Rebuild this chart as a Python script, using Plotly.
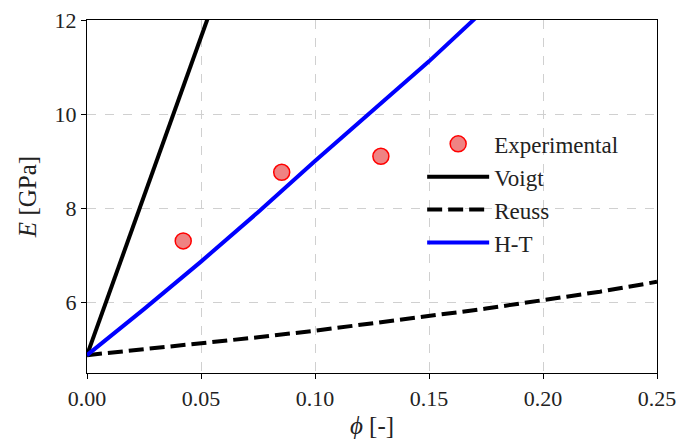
import plotly.graph_objects as go

# Experimental measurements
phi_exp = [0.0422, 0.0854, 0.1289]
E_exp = [7.30, 8.76, 9.10]

# Voigt bound (linear rule of mixtures)
phi_voigt = [0.0, 0.25]
E_voigt = [4.87, 38.7]

# Reuss bound
phi_reuss = [0.0, 0.025, 0.05, 0.075, 0.10, 0.125, 0.15, 0.175, 0.20, 0.225, 0.25]
E_reuss = [4.87, 4.99, 5.12, 5.25, 5.39, 5.54, 5.69, 5.86, 6.04, 6.22, 6.43]

# Halpin-Tsai estimate
phi_ht = [0.0, 0.025, 0.05, 0.075, 0.10, 0.125, 0.15, 0.175, 0.20]
E_ht = [4.87, 5.85, 6.86, 7.91, 9.00, 10.06, 11.12, 12.25, 13.45]

x_ticks = [0.0, 0.05, 0.10, 0.15, 0.20, 0.25]
x_tick_text = ["0.00", "0.05", "0.10", "0.15", "0.20", "0.25"]
y_ticks = [6, 8, 10, 12]

FONT = "Liberation Serif, serif"

fig = go.Figure()
fig.add_trace(go.Scatter(
    x=phi_exp, y=E_exp, mode="markers", name="Experimental", legendgroup="a",
    marker=dict(size=16, color="rgba(235,100,100,0.8)",
                line=dict(color="red", width=1.5)),
))
fig.add_trace(go.Scatter(
    x=phi_voigt, y=E_voigt, mode="lines", name="Voigt", legendgroup="b",
    line=dict(color="black", width=4),
))
fig.add_trace(go.Scatter(
    x=phi_reuss, y=E_reuss, mode="lines", name="Reuss", legendgroup="c",
    line=dict(color="black", width=4, dash="15px,6px"),
))
fig.add_trace(go.Scatter(
    x=phi_ht, y=E_ht, mode="lines", name="H-T", legendgroup="d",
    line=dict(color="blue", width=4),
))

axis_common = dict(
    showline=True, linecolor="black", linewidth=1.2, mirror=True,
    ticks="outside", ticklen=5, tickcolor="black", tickwidth=1.2,
    showgrid=True, gridcolor="#d0d0d0", griddash="dash", gridwidth=1,
    zeroline=False, automargin=False, ticklabeloverflow="allow",
    tickfont=dict(family=FONT, size=22, color="#222"),
)

fig.update_layout(
    width=678, height=441,
    margin=dict(l=87, r=21, t=20, b=68),
    paper_bgcolor="white", plot_bgcolor="white",
    font=dict(family=FONT, size=22, color="#222"),
    showlegend=True,
    legend=dict(
        x=0.588, y=0.71, xanchor="left", yanchor="top",
        bgcolor="rgba(0,0,0,0)", borderwidth=0,
        font=dict(family=FONT, size=23, color="#222"),
        itemwidth=62, tracegroupgap=0,
    ),
    xaxis=dict(
        range=[0, 0.25], tickvals=x_ticks, ticktext=x_tick_text,
        title=dict(text="<i>ϕ</i> [-]", font=dict(family=FONT, size=25), standoff=6),
        **axis_common,
    ),
    yaxis=dict(
        range=[4.49, 12], tickvals=y_ticks,
        title=dict(text="<i>E</i> [GPa]", font=dict(family=FONT, size=25), standoff=10),
        **axis_common,
    ),
)

fig.write_html("out.html")
